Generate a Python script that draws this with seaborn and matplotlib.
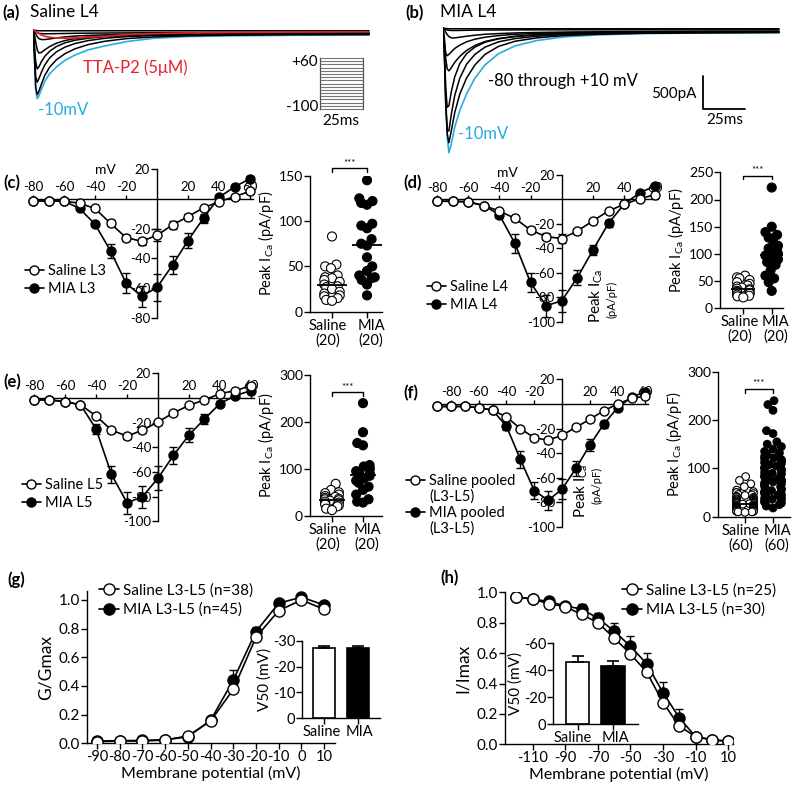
"""Saline vs MIA T-type calcium currents: traces, I-V curves, peak densities, G-V and inactivation."""

import matplotlib

matplotlib.use("Agg")
import matplotlib.pyplot as plt
import matplotlib.transforms as mtransforms
from matplotlib.collections import PathCollection
from matplotlib.lines import Line2D
import numpy as np
import pandas as pd
import seaborn as sns

W_PX, H_PX = 800, 788

# ---- (a)/(b) example current traces: sample times (ms) and currents (pA) ----
TRACE_T = [0, 0.8, 1.6, 2.5, 3.5, 5, 7, 10, 14, 19, 25, 33, 43, 56, 72, 92, 120, 155, 200]

SAL_BLUE = [0, -400, -900, -1040, -1000, -900, -780, -660, -560, -460, -380, -300, -240, -175, -125, -100, -88, -80, -75]
SAL_RED = [0, -10, -25, -40, -55, -75, -95, -110, -120, -125, -120, -110, -95, -70, -55, -45, -38, -32, -28]
SAL_BLACK_1 = [0, -380, -860, -980, -930, -820, -690, -560, -450, -360, -285, -220, -170, -130, -105, -88, -78, -72, -70]
SAL_BLACK_2 = [0, -300, -700, -790, -740, -640, -530, -420, -330, -260, -205, -160, -125, -100, -85, -75, -70, -66, -64]
SAL_BLACK_3 = [0, -200, -480, -590, -560, -480, -400, -320, -250, -195, -155, -125, -100, -85, -75, -68, -64, -62, -60]
SAL_BLACK_4 = [0, -60, -180, -300, -350, -340, -300, -250, -200, -160, -130, -105, -88, -76, -68, -62, -58, -56, -55]
SAL_BLACK_5 = [0, -20, -60, -100, -130, -145, -145, -135, -120, -105, -92, -82, -74, -67, -62, -58, -55, -52, -50]
SAL_BLACK_6 = [0, -10, -25, -40, -50, -55, -57, -57, -55, -53, -50, -48, -46, -44, -42, -40, -38, -36, -35]
SAL_BLACK_7 = [0, -5, -8, -10, -12, -12, -12, -12, -12, -12, -12, -12, -12, -12, -12, -12, -12, -12, -12]

MIA_BLUE = [0, -300, -1000, -1650, -1890, -1750, -1500, -1250, -1000, -760, -560, -390, -270, -190, -135, -105, -85, -75, -70]
MIA_BLACK_1 = [0, -350, -1100, -1600, -1740, -1550, -1280, -1000, -760, -560, -400, -280, -200, -150, -115, -95, -80, -72, -68]
MIA_BLACK_2 = [0, -400, -1150, -1550, -1560, -1300, -1020, -760, -550, -400, -290, -210, -160, -125, -100, -85, -75, -70, -66]
MIA_BLACK_3 = [0, -300, -900, -1200, -1180, -960, -740, -540, -390, -290, -215, -165, -130, -105, -88, -78, -70, -66, -64]
MIA_BLACK_4 = [0, -150, -450, -620, -650, -600, -520, -430, -340, -265, -205, -160, -125, -100, -85, -75, -68, -64, -62]
MIA_BLACK_5 = [0, -200, -380, -420, -400, -360, -310, -260, -210, -170, -140, -115, -95, -82, -72, -65, -60, -56, -54]
MIA_BLACK_6 = [0, -20, -60, -100, -130, -150, -150, -140, -125, -110, -95, -85, -75, -68, -62, -58, -55, -52, -50]
MIA_BLACK_7 = [0, -10, -20, -30, -35, -38, -38, -37, -35, -33, -31, -30, -29, -28, -28, -28, -28, -28, -28]
MIA_BLACK_8 = [0, -5, -8, -10, -12, -12, -12, -12, -12, -12, -12, -12, -12, -12, -12, -12, -12, -12, -12]

STEP_MV = [-100, -90, -80, -70, -60, -50, -40, -30, -20, -10, 0, 10, 20, 30, 40, 50, 60]

# ---- (c)-(f) I-V curves (pA/pF), mean and SEM ----
IV_V = [-80, -70, -60, -50, -40, -30, -20, -10, 0, 10, 20, 30, 40, 50, 60]
POOL_V = [-90, -80, -70, -60, -50, -40, -30, -20, -10, 0, 10, 20, 30, 40, 50, 60]

L3_SAL = [-1.5, -1.5, -1.5, -3, -6.5, -16.5, -26, -28.5, -24.5, -17.5, -12, -6, -2, 1.5, 5]
L3_SAL_ERR = [0, 0, 0, 0.5, 1, 2, 2, 2.5, 4, 2.5, 2, 1.5, 1, 1, 1]
L3_MIA = [-1.5, -1.5, -1.5, -6.5, -17, -35, -56.5, -65.5, -59.5, -44.5, -28, -13, 1, 8, 13.5]
L3_MIA_ERR = [0, 0, 0, 0.5, 1.5, 5, 6.5, 7, 9, 6, 5, 3, 1.5, 1.5, 1.5]

L4_SAL = [-1.5, -1.5, -2, -5, -9.5, -15.5, -25, -30.5, -32, -26, -17.5, -9.5, -4, 0.5, 4]
L4_SAL_ERR = [0, 0, 0, 0.5, 1, 2, 2.5, 3, 3.5, 2, 1.5, 1, 1, 1, 1]
L4_MIA = [-1.5, -1.5, -2, -5, -12.5, -36, -68, -87, -83, -64, -41.5, -19.5, -4, 5.5, 11]
L4_MIA_ERR = [0, 0, 0, 0.5, 3, 8, 8, 9, 9, 6, 4, 3, 1.5, 1.5, 1.5]

L5_SAL = [-1.5, -1.5, -3, -5.5, -14.5, -26, -31, -26, -19.5, -12, -6, -1.5, 3.5, 6, 10]
L5_SAL_ERR = [0, 0, 0, 0.5, 1, 2, 2, 2, 2, 1.5, 1, 1, 1, 1, 1]
L5_MIA = [-1.5, -1.5, -3, -5.5, -25, -62, -85, -80, -65, -46.5, -30, -17, -4.5, 2, 6]
L5_MIA_ERR = [0, 0, 0, 0.5, 4, 7, 9, 9, 10, 7, 6, 4, 2, 2, 2]

POOL_SAL = [-2, -2, -2, -3, -5, -10.5, -20, -27.5, -29.5, -25.5, -19, -12.5, -5.5, 0, 4.5, 6.5]
POOL_SAL_ERR = [0, 0, 0, 0, 0.5, 1, 1.5, 2, 2, 2, 1.5, 1, 1, 1, 1, 1]
POOL_MIA = [-2, -2, -2, -3, -5, -18, -45, -70.5, -78.5, -69.5, -52.5, -33.5, -16.5, -3, 5.5, 10]
POOL_MIA_ERR = [0, 0, 0, 0, 0.5, 3, 7, 7, 8, 8, 6, 5, 3, 1.5, 1.5, 1.5]

# ---- peak current density per cell (pA/pF) ----
L3_SAL_PTS = [83, 52, 50, 48, 40, 38, 37, 35, 33, 30, 28, 27, 25, 22, 20, 18, 17, 15, 13, 12]
L3_MIA_PTS = [145, 125, 122, 120, 118, 97, 95, 92, 80, 75, 73, 60, 50, 45, 40, 38, 37, 35, 30, 18]
L4_SAL_PTS = [60, 57, 55, 52, 48, 45, 42, 40, 38, 36, 35, 33, 32, 30, 28, 27, 25, 23, 22, 20]
L4_MIA_PTS = [222, 150, 140, 135, 130, 120, 115, 110, 105, 100, 97, 95, 90, 85, 80, 70, 60, 55, 48, 32]
L5_SAL_PTS = [68, 55, 50, 48, 45, 42, 40, 38, 36, 35, 33, 32, 30, 28, 26, 24, 22, 20, 15, 12]
L5_MIA_PTS = [240, 178, 155, 150, 108, 105, 100, 95, 92, 90, 85, 80, 75, 70, 62, 55, 45, 35, 30, 28]
POOL_SAL_PTS = [83, 75, 68, 62, 55, 52, 50, 50, 48, 46, 45, 44, 42, 40, 40, 38, 37, 36, 35, 34,
                33, 32, 31, 30, 30, 29, 28, 28, 28, 27, 27, 26, 25, 24, 24, 23, 22, 22, 21, 20,
                20, 19, 18, 18, 17, 17, 16, 15, 15, 14, 14, 13, 13, 12, 12, 11, 11, 10, 10, 9]
POOL_MIA_PTS = [240, 232, 220, 178, 172, 155, 150, 145, 140, 135, 132, 128, 125, 122, 120, 118, 115, 112, 110, 108,
                105, 102, 100, 98, 95, 92, 90, 88, 85, 82, 80, 78, 76, 74, 72, 70, 68, 66, 64, 62,
                60, 58, 56, 54, 52, 50, 48, 46, 45, 42, 40, 38, 36, 35, 32, 30, 28, 25, 22, 18]

# ---- (g) activation, (h) steady-state inactivation ----
GV_V = [-90, -80, -70, -60, -50, -40, -30, -20, -10, 0, 10]
GV_SAL = [0.012, 0.016, 0.016, 0.023, 0.051, 0.155, 0.376, 0.74, 0.926, 1.0, 0.935]
GV_SAL_ERR = [0.005, 0.005, 0.005, 0.005, 0.01, 0.01, 0.02, 0.02, 0.01, 0.01, 0.01]
GV_MIA = [0.016, 0.018, 0.02, 0.025, 0.045, 0.16, 0.44, 0.78, 0.977, 1.02, 0.965]
GV_MIA_ERR = [0.005, 0.005, 0.005, 0.005, 0.01, 0.015, 0.07, 0.035, 0.015, 0.01, 0.01]
GV_V50 = [-27.0, -27.0]
GV_V50_ERR = [0.9, 0.9]

HV_V = [-120, -110, -100, -90, -80, -70, -60, -50, -40, -30, -20, -10, 0, 10]
HV_SAL = [0.97, 0.955, 0.925, 0.905, 0.855, 0.80, 0.70, 0.595, 0.475, 0.275, 0.12, 0.05, 0.03, 0.02]
HV_SAL_ERR = [0.01, 0.01, 0.01, 0.01, 0.015, 0.02, 0.02, 0.025, 0.025, 0.025, 0.02, 0.01, 0.01, 0.01]
HV_MIA = [0.97, 0.955, 0.94, 0.91, 0.89, 0.83, 0.745, 0.645, 0.53, 0.34, 0.175, 0.05, 0.03, 0.02]
HV_MIA_ERR = [0.005, 0.005, 0.015, 0.02, 0.03, 0.035, 0.05, 0.065, 0.07, 0.07, 0.055, 0.02, 0.01, 0.01]
HV_V50 = [-46.3, -43.3]
HV_V50_ERR = [4.3, 3.5]

GROUPS = ["Saline", "MIA"]
BLUE = "#29abe2"
RED = "#e8202a"


def px_axes(fig, left, top, right, bottom):
    return fig.add_axes([left / W_PX, 1 - bottom / H_PX, (right - left) / W_PX, (bottom - top) / H_PX])


def ftext(fig, x, y, s, **kw):
    return fig.text(x / W_PX, 1 - y / H_PX, s, **kw)


def fig_anchor(x, y):
    return (x / W_PX, 1 - y / H_PX)


def nudge_xticklabels(ax, fig, shifts_px):
    for lab, dx in zip(ax.get_xticklabels(), shifts_px):
        lab.set_transform(lab.get_transform() + mtransforms.ScaledTranslation(dx / 100, 0, fig.dpi_scale_trans))


def draw_traces(fig, left, top, traces, blue, red=None):
    # 1 ms = 1.68 px, 1 pA = 0.066 px
    ax = px_axes(fig, left, top, left + 205 * 1.68, top + 2272 / 15.15)
    sns.lineplot(x=TRACE_T, y=blue, ax=ax, color=BLUE, lw=1.2)
    for tr in traces:
        sns.lineplot(x=TRACE_T, y=tr, ax=ax, color="black", lw=1.1)
    if red is not None:
        sns.lineplot(x=TRACE_T, y=red, ax=ax, color=RED, lw=1.2)
    ax.set_xlim(0, 205)
    ax.set_ylim(-2045, 227)
    ax.axis("off")
    return ax


def iv_box(x0, y0, sx, sy, xlim, ylim):
    return (x0 + xlim[0] * sx, y0 - ylim[1] * sy, x0 + xlim[1] * sx, y0 - ylim[0] * sy)


def curve_pair(ax, volts, sal, sal_err, mia, mia_err, ms, sal_label, mia_label):
    err_kw = dict(fmt="none", ecolor="black", elinewidth=1.0, capsize=3, capthick=1.0)
    ax.errorbar(volts, mia, yerr=mia_err, zorder=2, **err_kw)
    ax.errorbar(volts, sal, yerr=sal_err, zorder=2, **err_kw)
    sns.lineplot(x=volts, y=mia, ax=ax, color="black", lw=1.2, marker="o", markersize=ms,
                 markerfacecolor="black", markeredgecolor="black", markeredgewidth=1.0, zorder=3, label=mia_label)
    sns.lineplot(x=volts, y=sal, ax=ax, color="black", lw=1.2, marker="o", markersize=ms,
                 markerfacecolor="white", markeredgecolor="black", markeredgewidth=1.0, zorder=4, label=sal_label)
    handles, labels = ax.get_legend_handles_labels()
    return handles[::-1], labels[::-1]


def draw_iv(fig, box, volts, sal, sal_err, mia, mia_err, xlim, ylim, xticks, yticks, xspan, yspan, names):
    ax = px_axes(fig, *box)
    handles, labels = curve_pair(ax, volts, sal, sal_err, mia, mia_err, 6.5, *names)
    ax.spines["right"].set_visible(False)
    ax.spines["bottom"].set_visible(False)
    ax.spines["left"].set_position(("data", 0))
    ax.spines["top"].set_position(("data", 0))
    ax.spines["left"].set_bounds(*yspan)
    ax.spines["top"].set_bounds(*xspan)
    ax.xaxis.set_ticks_position("top")
    ax.yaxis.set_ticks_position("left")
    ax.set_xticks(xticks)
    ax.set_yticks(yticks)
    ax.tick_params(axis="x", length=3, pad=1, labelsize=9.5)
    ax.tick_params(axis="y", length=4, pad=1, labelsize=9.5)
    ax.set_xlim(xlim)
    ax.set_ylim(ylim)
    ax.set_xlabel("")
    ax.set_ylabel("")
    ax.patch.set_alpha(0)
    return ax, handles, labels


def place_legend(ax, fig, handles, labels, x, y, spacing=0.3, fontsize=10.5):
    ax.legend(handles, labels, loc="upper left", bbox_to_anchor=fig_anchor(x, y),
              bbox_transform=fig.transFigure, frameon=False, handlelength=1.3, handletextpad=0.3,
              borderpad=0, borderaxespad=0, labelspacing=spacing, fontsize=fontsize)


def draw_scatter(fig, yaxis_px, cat0_px, step_px, right_px, zero_px, top_px, top_val,
                 sal, mia, yticks, n, sig_val, size, squeeze):
    ax = px_axes(fig, yaxis_px, top_px, right_px, zero_px)
    df = pd.DataFrame({"group": ["Saline"] * len(sal) + ["MIA"] * len(mia), "value": sal + mia})
    sns.swarmplot(data=df, x="group", y="value", hue="group", order=GROUPS,
                  palette={"Saline": "white", "MIA": "black"}, edgecolor="black", linewidth=0.8,
                  size=size, ax=ax, legend=False, zorder=3, warn_thresh=1)
    swarms = [c for c in ax.collections if isinstance(c, PathCollection)]
    for i, vals in enumerate([sal, mia]):
        ax.hlines(np.median(vals), i - 0.42, i + 0.42, color="black", lw=1.3, zorder=5)
    ax.plot([0, 0, 1, 1], [sig_val - top_val * 0.025, sig_val, sig_val, sig_val - top_val * 0.025],
            color="black", lw=1.0, clip_on=False)
    ax.text(0.5, sig_val + top_val * 0.005, "***", ha="center", va="bottom", fontsize=7)
    ax.set_xlim((yaxis_px - cat0_px) / step_px, (right_px - cat0_px) / step_px)
    ax.set_ylim(0, top_val)
    ax.set_yticks(yticks)
    ax.set_xticks([0, 1])
    ax.set_xticklabels([f"Saline\n({n})", f"MIA\n({n})"], fontsize=10.5, linespacing=1.05)
    ax.tick_params(axis="y", labelsize=10, length=4, pad=1)
    ax.tick_params(axis="x", length=4, pad=1)
    nudge_xticklabels(ax, fig, [-4, 4])
    ax.set_xlabel("")
    ax.set_ylabel("Peak I$_{Ca}$ (pA/pF)", fontsize=10.5, labelpad=2)
    sns.despine(ax=ax)
    ax.patch.set_alpha(0)

    # let seaborn lay out the swarm once, then pull it together so circles overlap as in the original
    fig.canvas.draw()
    for coll in swarms:
        offs = np.asarray(coll.get_offsets(), dtype=float).copy()
        if len(offs):
            centre = np.round(offs[:, 0])
            offs[:, 0] = centre + (offs[:, 0] - centre) * squeeze
            coll.set_offsets(offs)
        if "draw" in coll.__dict__:
            del coll.draw
    return ax


def draw_v50(fig, box, vals, errs, ylim, yticks, xlim, shifts):
    ax = px_axes(fig, *box)
    sns.barplot(x=GROUPS, y=vals, hue=GROUPS, palette={"Saline": "white", "MIA": "black"},
                edgecolor="black", linewidth=1.2, width=0.66, ax=ax, legend=False, errorbar=None)
    ax.errorbar([0, 1], vals, yerr=[errs, [0, 0]], fmt="none", ecolor="black", elinewidth=1.2,
                capsize=4, capthick=1.2)
    ax.set_ylim(*ylim)
    ax.set_yticks(yticks)
    ax.set_xlim(*xlim)
    ax.tick_params(axis="y", labelsize=10.5, length=4, pad=1)
    ax.tick_params(axis="x", labelsize=10.5, length=4, pad=1)
    nudge_xticklabels(ax, fig, shifts)
    ax.set_ylabel("V50 (mV)", fontsize=11, labelpad=1)
    sns.despine(ax=ax)
    ax.patch.set_alpha(0)
    return ax


def main() -> None:
    sns.set_theme(style="ticks", rc={
        "axes.edgecolor": "black", "axes.labelcolor": "black", "text.color": "black",
        "xtick.color": "black", "ytick.color": "black", "axes.linewidth": 1.0,
        "xtick.major.width": 1.0, "ytick.major.width": 1.0,
        "xtick.major.size": 4, "ytick.major.size": 4,
        "axes.unicode_minus": False, "mathtext.default": "regular",
    })
    plt.rcParams["font.family"] = ["Lato", "DejaVu Sans"]

    fig = plt.figure(figsize=(W_PX / 100, H_PX / 100), dpi=100)
    fig.patch.set_facecolor("white")

    # ---- (a) ----
    ftext(fig, 2, 13, "(a)", fontsize=12, fontweight="bold", va="center")
    ftext(fig, 30, 12, "Saline L4", fontsize=12.5, va="center")
    draw_traces(fig, 33, 15, [SAL_BLACK_7, SAL_BLACK_6, SAL_BLACK_5, SAL_BLACK_4, SAL_BLACK_3,
                              SAL_BLACK_2, SAL_BLACK_1], SAL_BLUE, SAL_RED)
    ftext(fig, 83, 68, "TTA-P2 (5\u03bcM)", fontsize=12, color=RED, va="center")
    ftext(fig, 38, 110, "-10mV", fontsize=12, color=BLUE, va="center")
    prot = px_axes(fig, 320, 58, 363, 109)
    prot.hlines(STEP_MV, 0, 1, color="#777777", lw=0.8, clip_on=False)
    prot.set_xlim(0, 1)
    prot.set_ylim(-100, 60)
    prot.set_xticks([])
    prot.set_yticks([])
    for side in ["top", "bottom"]:
        prot.spines[side].set_visible(False)
    for side in ["left", "right"]:
        prot.spines[side].set_color("#555555")
        prot.spines[side].set_linewidth(0.9)
    prot.patch.set_alpha(0)
    ftext(fig, 318, 62, "+60", fontsize=11, ha="right", va="center")
    ftext(fig, 318, 107, "-100", fontsize=11, ha="right", va="center")
    ftext(fig, 341, 121, "25ms", fontsize=11, ha="center", va="center")

    # ---- (b) ----
    ftext(fig, 405, 13, "(b)", fontsize=12, fontweight="bold", va="center")
    ftext(fig, 440, 12, "MIA L4", fontsize=12.5, va="center")
    axb = draw_traces(fig, 443, 13, [MIA_BLACK_8, MIA_BLACK_7, MIA_BLACK_6, MIA_BLACK_5, MIA_BLACK_4,
                                     MIA_BLACK_3, MIA_BLACK_2, MIA_BLACK_1], MIA_BLUE)
    # scale bar: 25 ms x 500 pA
    axb.plot([154.8, 154.8, 179.8], [-727, -1227, -1227], color="black", lw=1.3, clip_on=False)
    ftext(fig, 488, 81, "-80 through +10 mV", fontsize=12, va="center")
    ftext(fig, 458, 134, "-10mV", fontsize=12, color=BLUE, va="center")
    ftext(fig, 697, 94, "500pA", fontsize=11, ha="right", va="center")
    ftext(fig, 725, 120, "25ms", fontsize=11, ha="center", va="center")

    iv_xticks = [-80, -60, -40, -20, 20, 40, 60]

    # ---- (g) ----
    ftext(fig, 7, 580, "(g)", fontsize=12, fontweight="bold", va="center")
    axg = px_axes(fig, 87, 591.4, 335, 743.3)
    h, l = curve_pair(axg, GV_V, GV_SAL, GV_SAL_ERR, GV_MIA, GV_MIA_ERR, 8,
                      "Saline L3-L5 (n=38)", "MIA L3-L5 (n=45)")
    axg.set_xlim(-94.4, 14.8)
    axg.set_ylim(0, 1.06)
    axg.set_xticks(GV_V)
    axg.set_yticks([0, 0.2, 0.4, 0.6, 0.8, 1.0])
    axg.set_yticklabels(["0.0", "0.2", "0.4", "0.6", "0.8", "1.0"])
    axg.tick_params(axis="y", labelsize=11, length=4, pad=1)
    axg.tick_params(axis="x", labelsize=10.5, length=4, pad=1)
    axg.set_xlabel("Membrane potential (mV)", fontsize=11.5, labelpad=1)
    axg.set_ylabel("G/Gmax", fontsize=12.5, labelpad=4)
    sns.despine(ax=axg)
    place_legend(axg, fig, h, l, 99, 583, spacing=0.35, fontsize=11)
    draw_v50(fig, (302, 640.7, 380, 718.3), GV_V50, GV_V50_ERR, (0, -30), [0, -10, -20, -30],
             (-0.66, 1.67), [-2, 2])

    # ---- (h) ----
    ftext(fig, 440, 578, "(h)", fontsize=12, fontweight="bold", va="center")
    axh = px_axes(fig, 505, 592.3, 733, 744.3)
    h, l = curve_pair(axh, HV_V, HV_SAL, HV_SAL_ERR, HV_MIA, HV_MIA_ERR, 8,
                      "Saline L3-L5 (n=25)", "MIA L3-L5 (n=30)")
    axh.set_xlim(-127, 13)
    axh.set_ylim(0, 1.0)
    axh.set_xticks([-110, -90, -70, -50, -30, -10, 10])
    axh.set_yticks([0, 0.2, 0.4, 0.6, 0.8, 1.0])
    axh.set_yticklabels(["0.0", "0.2", "0.4", "0.6", "0.8", "1.0"])
    axh.tick_params(axis="y", labelsize=11, length=4, pad=1)
    axh.tick_params(axis="x", labelsize=10.5, length=4, pad=1)
    axh.set_xlabel("Membrane potential (mV)", fontsize=11.5, labelpad=1)
    axh.set_ylabel("I/Imax", fontsize=12.5, labelpad=4)
    sns.despine(ax=axh)
    place_legend(axh, fig, h, l, 622, 583, spacing=0.35, fontsize=11)
    draw_v50(fig, (553.3, 643.3, 638, 724), HV_V50, HV_V50_ERR, (0, -60), [0, -20, -40, -60],
             (-0.69, 1.71), [-5, 2])

    # ---- (c) ----
    ftext(fig, 3, 183, "(c)", fontsize=12, fontweight="bold", va="center")
    xl, yl = (-83, 63), (-83, 22)
    ax, h, l = draw_iv(fig, iv_box(157, 198.8, 1.55, 1.49, xl, yl), IV_V, L3_SAL, L3_SAL_ERR, L3_MIA,
                       L3_MIA_ERR, xl, yl, iv_xticks, [20, -20, -40, -60, -80], (-80, 62), (-80, 20),
                       ("Saline L3", "MIA L3"))
    place_legend(ax, fig, h, l, 25, 264)
    ftext(fig, 105, 170, "mV", fontsize=10, ha="center", va="center")

    # ---- (d) ----
    ftext(fig, 403, 183, "(d)", fontsize=12, fontweight="bold", va="center")
    xl, yl = (-83, 63), (-103, 22)
    ax, h, l = draw_iv(fig, iv_box(561.7, 199.4, 1.56, 1.222, xl, yl), IV_V, L4_SAL, L4_SAL_ERR, L4_MIA,
                       L4_MIA_ERR, xl, yl, iv_xticks, [20, -20, -40, -60, -80, -100], (-80, 62), (-100, 20),
                       ("Saline L4", "MIA L4"))
    place_legend(ax, fig, h, l, 427, 280)
    ftext(fig, 507, 173, "mV", fontsize=10, ha="center", va="center")
    ftext(fig, 596, 323, "Peak I$_{Ca}$", fontsize=11, rotation=90, ha="center", va="bottom")
    ftext(fig, 612, 318, "(pA/pF)", fontsize=8, rotation=90, ha="center", va="bottom")

    # ---- (e) ----
    ftext(fig, 3, 382, "(e)", fontsize=12, fontweight="bold", va="center")
    xl, yl = (-83, 63), (-103, 22)
    ax, h, l = draw_iv(fig, iv_box(158, 398, 1.55, 1.233, xl, yl), IV_V, L5_SAL, L5_SAL_ERR, L5_MIA,
                       L5_MIA_ERR, xl, yl, iv_xticks, [20, -20, -40, -60, -80, -100], (-80, 62), (-100, 20),
                       ("Saline L5", "MIA L5"))
    place_legend(ax, fig, h, l, 22, 478)

    # ---- (f) ----
    ftext(fig, 403, 393, "(f)", fontsize=12, fontweight="bold", va="center")
    xl, yl = (-94, 63), (-103, 22)
    ax, h, l = draw_iv(fig, iv_box(562, 404, 1.39, 1.227, xl, yl), POOL_V, POOL_SAL, POOL_SAL_ERR, POOL_MIA,
                       POOL_MIA_ERR, xl, yl, iv_xticks, [20, -20, -40, -60, -80, -100], (-92, 62), (-100, 20),
                       ("Saline pooled", "MIA pooled"))
    blank = Line2D([], [], linestyle="none")
    place_legend(ax, fig, [h[0], blank, h[1], blank],
                 ["Saline pooled", "(L3-L5)", "MIA pooled", "(L3-L5)"], 406, 474, spacing=0.12)
    ftext(fig, 581, 518, "Peak I$_{Ca}$", fontsize=11, rotation=90, ha="center", va="bottom")
    ftext(fig, 597, 504, "(pA/pF)", fontsize=8, rotation=90, ha="center", va="bottom")

    # ---- scatter panels last: their swarms are laid out on a draw of the finished figure ----
    draw_scatter(fig, 310, 332, 35, 382, 311.7, 175.7, 150, L3_SAL_PTS, L3_MIA_PTS,
                 [0, 50, 100, 150], 20, 158, 6.5, 0.55)
    draw_scatter(fig, 720, 743.3, 28.4, 783, 308.3, 172.3, 250, L4_SAL_PTS, L4_MIA_PTS,
                 [0, 50, 100, 150, 200, 250], 20, 244, 6.5, 0.55)
    draw_scatter(fig, 310, 332, 31, 381.7, 515.7, 375, 300, L5_SAL_PTS, L5_MIA_PTS,
                 [0, 100, 200, 300], 20, 263, 6.5, 0.55)
    draw_scatter(fig, 718, 745, 28, 790, 516.7, 371.7, 300, POOL_SAL_PTS, POOL_MIA_PTS,
                 [0, 100, 200, 300], 60, 264, 5.5, 0.75)

    fig.savefig("out.png", dpi=100, facecolor="white")
    plt.close(fig)


if __name__ == "__main__":
    main()
